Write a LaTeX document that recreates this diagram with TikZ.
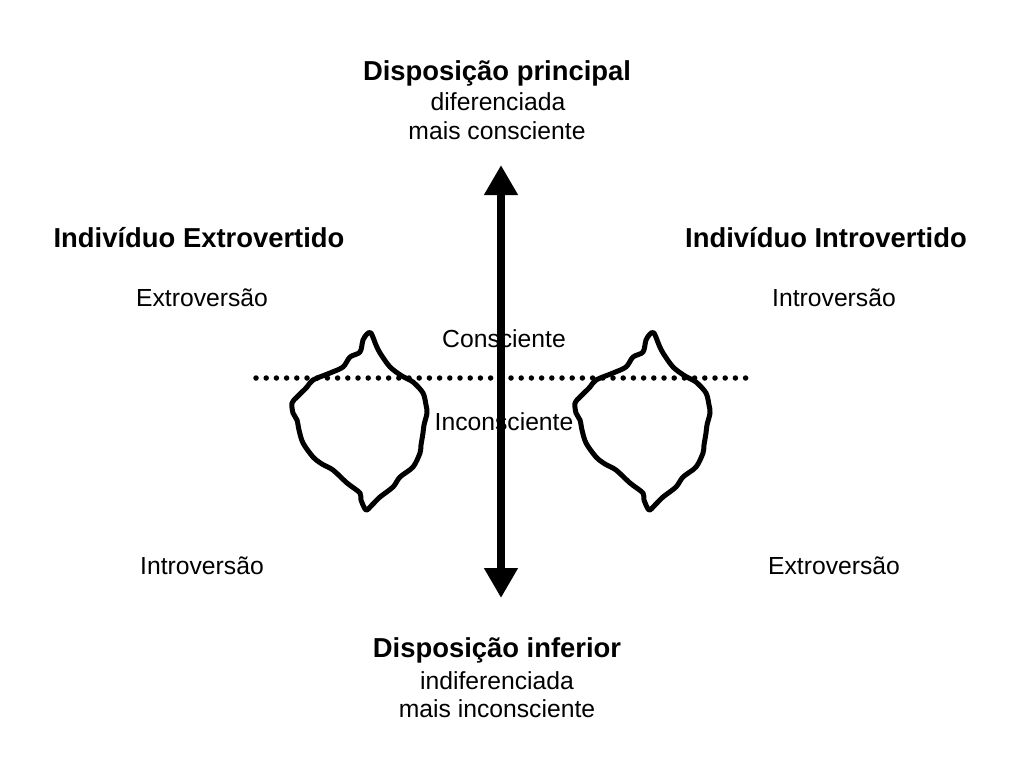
\documentclass[tikz,border=0pt]{standalone}
\usepackage{fontspec}
\setmainfont{Liberation Sans}
\usetikzlibrary{arrows.meta}

\tikzset{
  title/.style={inner sep=0pt, font=\fontsize{27.4}{32}\selectfont\bfseries},
  label/.style={inner sep=0pt, font=\fontsize{24.7}{29}\selectfont},
  blob/.style={line width=5pt, line join=round, line cap=round}
}

\begin{document}
\begin{tikzpicture}[x=1pt,y=-1pt]
        \useasboundingbox (0,0) rectangle (1024,768);
        \coordinate (T) at (501,165);
        \coordinate (B) at (501,598);
        \node[title] (princ) at (497,73) {Disposição principal};
        \node[label] (dif) at (498,102) {diferenciada};
        \node[label] (mcons) at (497,131) {mais consciente};
        \node[title] (infer) at (497,650) {Disposição inferior};
        \node[label] (indif) at (497,681) {indiferenciada};
        \node[label] (minc) at (497,709) {mais inconsciente};
        \node[title] (iext) at (199,238) {Indivíduo Extrovertido};
        \node[title] (iint) at (826,238) {Indivíduo Introvertido};
        \node[label] (ext1) at (202,298) {Extroversão};
        \node[label] (int1) at (834,298) {Introversão};
        \node[label] (int2) at (202,566) {Introversão};
        \node[label] (ext2) at (834,566) {Extroversão};
        \node[label] (cons) at (504,339) {Consciente};
        \node[label] (incons) at (504,422) {Inconsciente};
        \draw[line width=5.5pt, line cap=round, dash pattern=on 0pt off 10.2pt] (256,378) -- (746,378);
        \foreach \dx in {0,283} {
          \draw[blob, xshift=\dx] plot[smooth cycle, tension=0.5] coordinates {
            (371,333) (376,345) (380,353) (390,367) (402,376) (413,382) (423,393) (426,405)
            (427,413) (424,425) (423,433) (421,445) (420,453) (413,467) (400,477) (393,487)
            (380,497) (372,505) (366,510) (361,500) (360,493) (347,483) (333,470) (322,464)
            (313,457) (303,443) (299,430) (297,420) (293,413) (292,403) (297,397) (307,387)
            (313,380) (330,373) (343,367) (350,357) (360,352) (363,340) (367,334)};
        }
        \draw[line width=8pt, {Triangle[width=32pt,length=30pt]}-{Triangle[width=32pt,length=30pt]}] (B) -- (T);
    \end{tikzpicture}
\end{document}
